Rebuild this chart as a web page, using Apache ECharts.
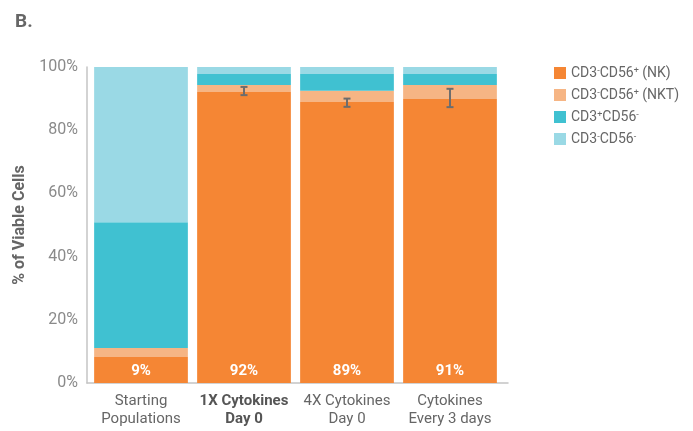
<!DOCTYPE html>
<html>
<head>
<meta charset="utf-8">
<script src="https://cdn.jsdelivr.net/npm/echarts@6/dist/echarts.min.js"></script>
<style>
  html, body { margin: 0; padding: 0; background: #fff; }
  #chart { width: 693px; height: 431px; }
</style>
</head>
<body>
<div id="chart"></div>
<script>
// 类别 / 系列数据
const categories = ["Starting\nPopulations", "1X Cytokines\nDay 0", "4X Cytokines\nDay 0", "Cytokines\nEvery 3 days"];
const nkValues = [8.2, 92.1, 88.9, 89.9];
const nktValues = [2.9, 2.2, 3.6, 4.4];
const cd3posValues = [39.8, 3.5, 5.3, 3.5];
const cd3negValues = [49.1, 2.2, 2.2, 2.2];
const nkLabels = ["9%", "92%", "89%", "91%"];
// 误差线: [类别序号, 中心值, 半宽]
const errorBars = [[1, 92.4, 1.3], [2, 88.7, 1.3], [3, 90.2, 2.9]];
const yTicks = [0, 20, 40, 60, 80, 100];

const seriesNames = ["CD3-CD56+ (NK)", "CD3-CD56+ (NKT)", "CD3+CD56-", "CD3-CD56-"];
const colors = ["#F58634", "#F6B584", "#40C1D1", "#9AD9E5"];

const fontFamily = "Roboto, 'Noto Sans', sans-serif";
const chart = echarts.init(document.getElementById("chart"));

// 图例文字里的上标
const legendText = (name) => {
  return name.replace(/CD(3|56)([+-])/g, (m, n, s) => "{t|CD" + n + "}{s|" + s + "}")
    .replace(/ \((NKT?)\)/, "{t| ($1)}");
};

const barSeries = seriesNames.map((name, i) => {
  const values = [nkValues, nktValues, cd3posValues, cd3negValues][i];
  const s = {
    name: name,
    type: "bar",
    stack: "total",
    xAxisIndex: 1,
    yAxisIndex: 1,
    barCategoryGap: "9%",
    itemStyle: { color: colors[i] },
    data: values,
    z: 2,
  };
  if (i === 0) {
    s.label = {
      show: true,
      position: "insideBottom",
      distance: 4,
      color: "#fff",
      fontWeight: "bold",
      fontSize: 15,
      fontFamily: fontFamily,
      formatter: (p) => nkLabels[p.dataIndex],
    };
  }
  return s;
});

const option = {
  animation: false,
  title: {
    text: "B.",
    left: 10,
    top: 8,
    textStyle: { fontSize: 19, fontWeight: "bold", color: "#666", fontFamily: fontFamily },
  },
  legend: {
    data: seriesNames,
    orient: "vertical",
    left: 549,
    top: 61,
    itemWidth: 12,
    itemHeight: 12,
    itemGap: 8,
    icon: "rect",
    formatter: legendText,
    textStyle: {
      fontFamily: fontFamily,
      rich: {
        t: { fontSize: 14, color: "#666", fontFamily: fontFamily, lineHeight: 14, verticalAlign: "bottom" },
        s: { fontSize: 9, color: "#666", fontFamily: fontFamily, lineHeight: 14, verticalAlign: "top", padding: [0, 0, 2, 0] },
      },
    },
  },
  grid: [
    // 坐标轴线用的网格
    { left: 87, right: 185, top: 67, bottom: 48 },
    // 柱子用的网格
    { left: 89.5, right: 191.5, top: 67, bottom: 48 },
  ],
  xAxis: [
    {
      gridIndex: 0,
      type: "value",
      min: 0,
      max: 1,
      axisLine: { show: true, lineStyle: { color: "#c4c4c4", width: 1.5 } },
      axisTick: { show: false },
      axisLabel: { show: false },
      splitLine: { show: false },
    },
    {
      gridIndex: 1,
      type: "category",
      data: categories,
      axisLine: { show: false },
      axisTick: { show: false },
      axisLabel: {
        interval: 0,
        margin: 9,
        fontSize: 15,
        lineHeight: 18,
        color: "#666",
        fontFamily: fontFamily,
        formatter: (v, i) => {
          if (i === 1) return v.split("\n").map((l) => "{b|" + l + "}").join("\n");
          return v;
        },
        rich: {
          b: { fontSize: 15, lineHeight: 18, fontWeight: "bold", color: "#555", fontFamily: fontFamily },
        },
      },
    },
  ],
  yAxis: [
    {
      gridIndex: 0,
      type: "value",
      min: yTicks[0],
      max: yTicks[yTicks.length - 1],
      interval: 20,
      name: "% of Viable Cells",
      nameLocation: "middle",
      nameGap: 57,
      nameTextStyle: { fontSize: 16, fontWeight: "bold", color: "#666", fontFamily: fontFamily },
      axisLine: { show: true, lineStyle: { color: "#c4c4c4", width: 1.5 } },
      axisTick: { show: false },
      splitLine: { show: false },
      axisLabel: {
        margin: 9,
        fontSize: 16,
        color: "#8a8a8a",
        fontFamily: fontFamily,
        formatter: "{value}%",
      },
    },
    {
      gridIndex: 1,
      type: "value",
      min: 0,
      max: 100,
      show: false,
    },
  ],
  series: barSeries.concat([
    {
      name: "error",
      type: "custom",
      xAxisIndex: 1,
      yAxisIndex: 1,
      z: 5,
      data: errorBars,
      renderItem: (params, api) => {
        const x = api.value(0);
        const c = api.value(1);
        const e = api.value(2);
        const hi = api.coord([x, c + e]);
        const lo = api.coord([x, c - e]);
        const w = 3.5;
        const style = { stroke: "#6d6d6d", lineWidth: 2 };
        return {
          type: "group",
          children: [
            { type: "line", shape: { x1: hi[0], y1: hi[1], x2: lo[0], y2: lo[1] }, style: style },
            { type: "line", shape: { x1: hi[0] - w, y1: hi[1], x2: hi[0] + w, y2: hi[1] }, style: style },
            { type: "line", shape: { x1: lo[0] - w, y1: lo[1], x2: lo[0] + w, y2: lo[1] }, style: style },
          ],
        };
      },
    },
  ]),
};

chart.setOption(option);
</script>
</body>
</html>
